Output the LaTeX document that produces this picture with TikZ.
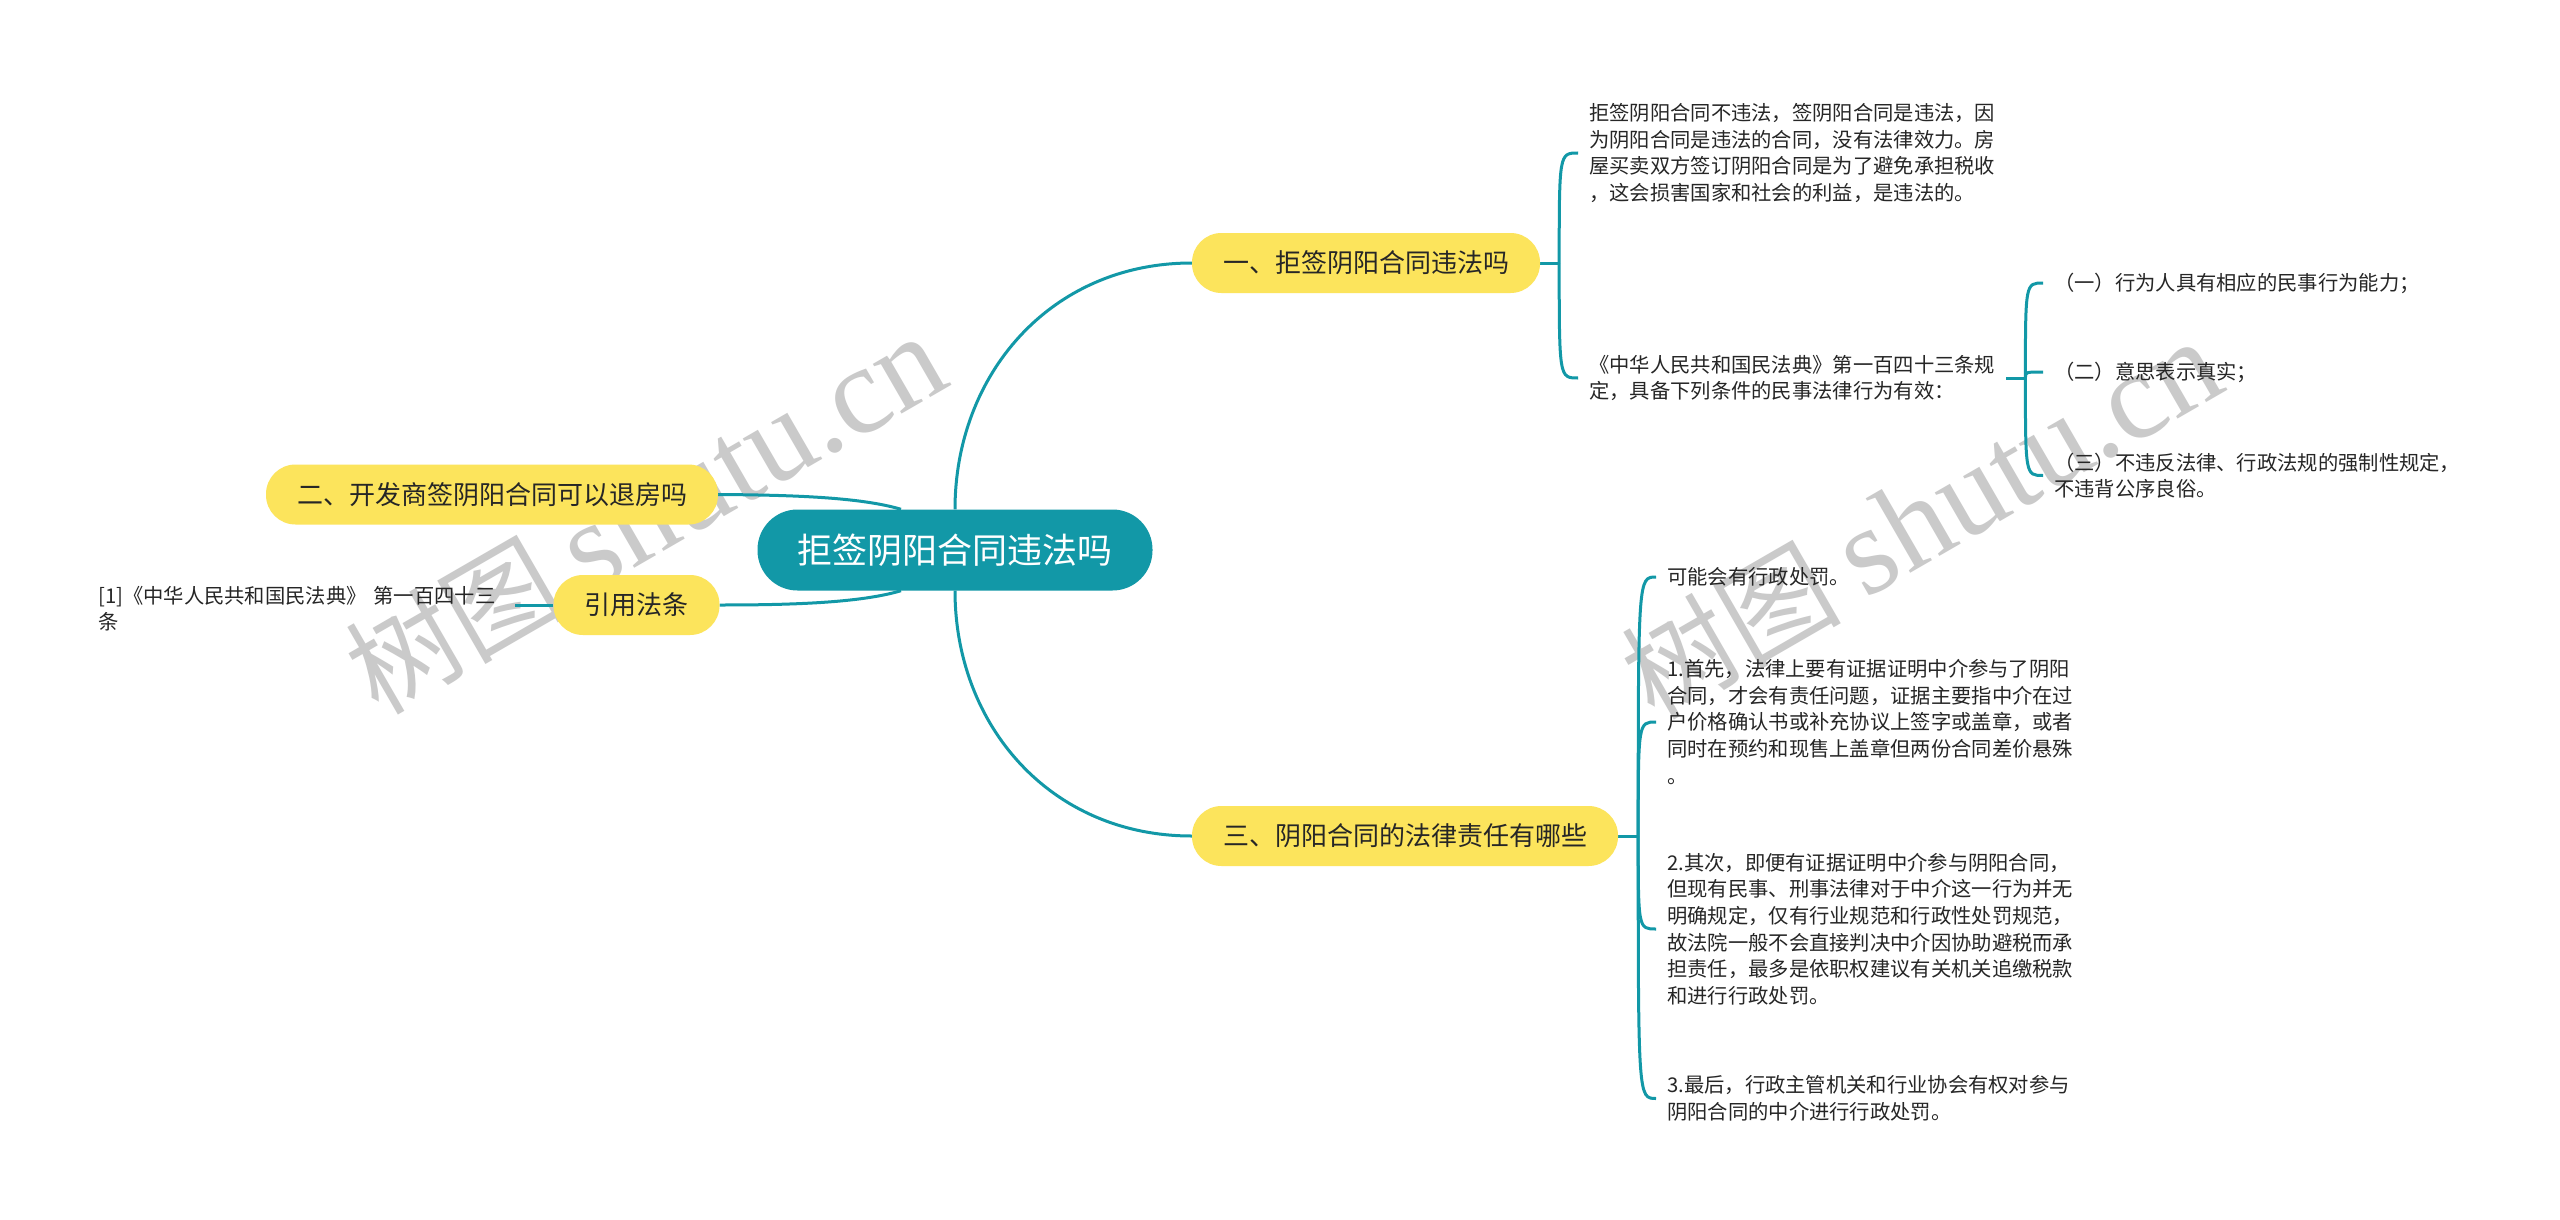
\documentclass[tikz,border=0pt]{standalone}
\usepackage{fontspec}
\setmainfont{Noto Sans CJK SC}
\newfontfamily\wmserif{Liberation Serif}
\setlength{\parindent}{0pt}
\usetikzlibrary{calc}
\definecolor{teal1}{RGB}{18,152,167}
\definecolor{yel}{RGB}{252,228,92}
\definecolor{txt}{RGB}{38,38,38}
\definecolor{wm}{RGB}{202,202,202}
\pgfdeclarelayer{wmlayer}
\pgfdeclarelayer{bg}
\pgfsetlayers{wmlayer,bg,main}
\begin{document}
\begin{tikzpicture}[x=1pt,y=-1pt,
  link/.style={draw=teal1, line width=3pt},
  rootbox/.style={fill=teal1, text=white, rounded corners=40pt, minimum height=81pt, inner xsep=40pt, inner ysep=0pt, font=\fontsize{35}{40}\selectfont},
  branch/.style={fill=yel, text=txt, rounded corners=29.5pt, minimum height=60pt, inner xsep=31pt, inner ysep=0pt, font=\fontsize{26}{30}\selectfont},
  leaf/.style={anchor=west, text=txt, text width=406pt, align=left, inner xsep=11pt, inner ysep=2pt, font=\fontsize{20.3}{26.6}\selectfont},
  wmark/.style={text=wm, rotate=30, font=\fontsize{110}{110}\selectfont}
]
\useasboundingbox (0,0) rectangle (2560,1220);

% background and watermarks
\begin{pgfonlayer}{wmlayer}
\fill[white] (0,0) rectangle (2560,1220);
\node[wmark] (wm1) at (645,514) {树图 {\wmserif\fontsize{125}{125}\selectfont shutu.cn}};
\node[wmark] (wm2) at (1921,519) {树图 {\wmserif\fontsize{125}{125}\selectfont shutu.cn}};
\end{pgfonlayer}

% main nodes
\node[rootbox] (rt) at (955,550) {拒签阴阳合同违法吗};
\node[branch] (b1) at (1366,263) {一、拒签阴阳合同违法吗};
\node[branch] (b3) at (1405,836) {三、阴阳合同的法律责任有哪些};
\node[branch] (b2) at (492,494.5) {二、开发商签阴阳合同可以退房吗};
\node[branch] (yy) at (636.5,605) {引用法条};

% leaves
\node[leaf] (lf) at (87,608.5) {[1]《中华人民共和国民法典》 第一百四十三\\条};

\node[leaf] (a1) at (1578,153) {拒签阴阳合同不违法，签阴阳合同是违法，因\\为阴阳合同是违法的合同，没有法律效力。房\\屋买卖双方签订阴阳合同是为了避免承担税收\\，这会损害国家和社会的利益，是违法的。};
\node[leaf] (a2) at (1578,378) {《中华人民共和国民法典》第一百四十三条规\\定，具备下列条件的民事法律行为有效：};

\node[leaf] (s1) at (2043,283) {（一）行为人具有相应的民事行为能力；};
\node[leaf] (s2) at (2043,372) {（二）意思表示真实；};
\node[leaf] (s3) at (2043,475.5) {（三）不违反法律、行政法规的强制性规定，\\不违背公序良俗。};

\node[leaf] (c0) at (1656,577) {可能会有行政处罚。};
\node[leaf] (c1) at (1656,722) {1.首先，法律上要有证据证明中介参与了阴阳\\合同，才会有责任问题，证据主要指中介在过\\户价格确认书或补充协议上签字或盖章，或者\\同时在预约和现售上盖章但两份合同差价悬殊\\。};
\node[leaf] (c2) at (1656,929) {2.其次，即便有证据证明中介参与阴阳合同，\\但现有民事、刑事法律对于中介这一行为并无\\明确规定，仅有行业规范和行政性处罚规范，\\故法院一般不会直接判决中介因协助避税而承\\担责任，最多是依职权建议有关机关追缴税款\\和进行行政处罚。};
\node[leaf] (c3) at (1656,1098.5) {3.最后，行政主管机关和行业协会有权对参与\\阴阳合同的中介进行行政处罚。};

% connectors
\begin{pgfonlayer}{bg}
\draw[link] (rt.north) .. controls (955,375) and (1050,263) .. (b1.west);
\draw[link] (rt.south) .. controls (955,725) and (1050,836) .. (b3.west);
\draw[link] ([xshift=-54pt]rt.north) .. controls (860,497) and (790,495) .. (b2.east);
\draw[link] ([xshift=-54pt]rt.south) .. controls (860,603) and (790,605) .. (yy.east);
\draw[link] (yy.west) -- (yy.west -| lf.east);

\coordinate (j1) at ([xshift=19pt]b1.east);
\draw[link] (b1.east) -- (j1);
\draw[link] (j1) .. controls (j1 |- a1.west) .. (a1.west);
\draw[link] (j1) .. controls (j1 |- a2.west) .. (a2.west);

\coordinate (jr) at ([xshift=19pt]a2.east);
\draw[link] (a2.east) -- (jr);
\draw[link] (jr) .. controls (jr |- s1.west) .. (s1.west);
\draw[link] (jr) .. controls (jr |- s2.west) .. (s2.west);
\draw[link] (jr) .. controls (jr |- s3.west) .. (s3.west);

\coordinate (j3) at ([xshift=20pt]b3.east);
\draw[link] (b3.east) -- (j3);
\draw[link] (j3) .. controls (j3 |- c0.west) .. (c0.west);
\draw[link] (j3) .. controls (j3 |- c1.west) .. (c1.west);
\draw[link] (j3) .. controls (j3 |- c2.west) .. (c2.west);
\draw[link] (j3) .. controls (j3 |- c3.west) .. (c3.west);
\end{pgfonlayer}
\end{tikzpicture}
\end{document}
